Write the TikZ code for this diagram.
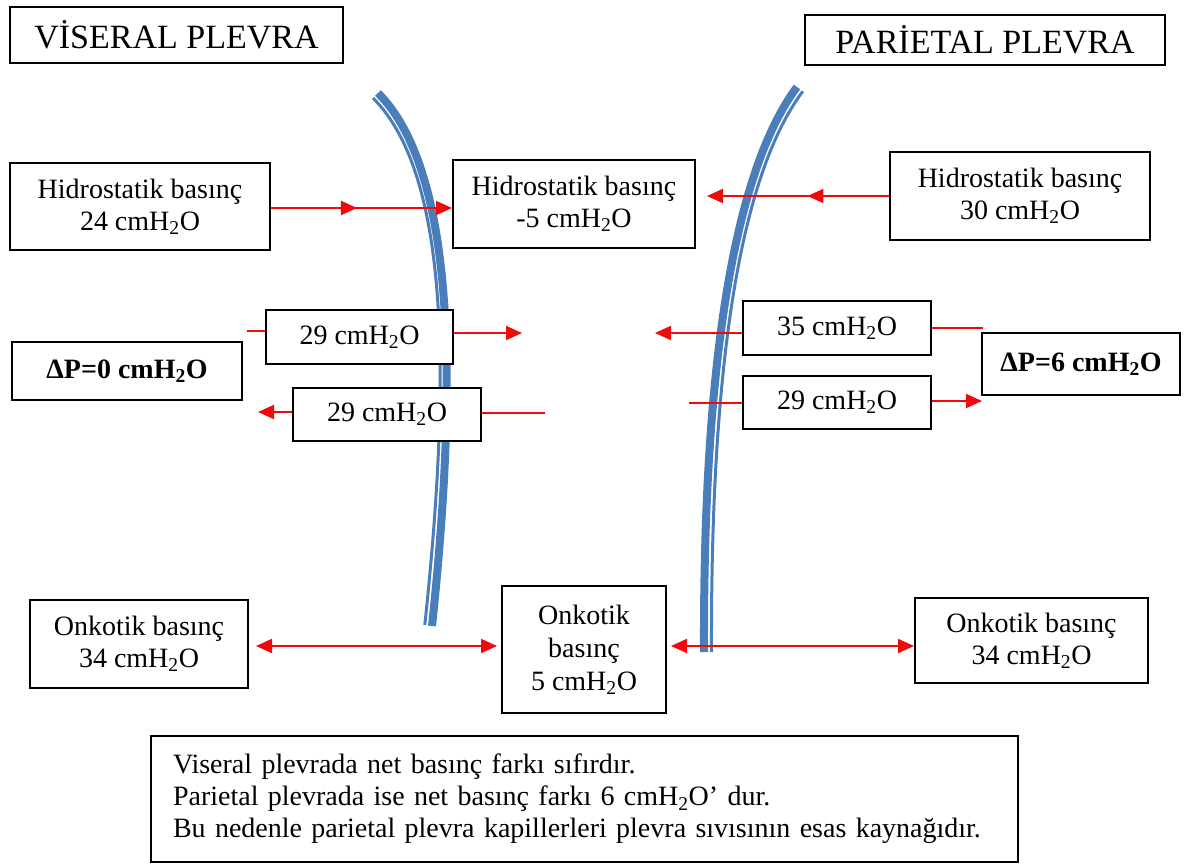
\documentclass[tikz,border=0pt]{standalone}
\usepackage{fontspec}
\setmainfont{Liberation Serif}
\usetikzlibrary{arrows.meta,decorations.markings}
\definecolor{pblue}{RGB}{74,126,187}
\definecolor{ared}{RGB}{240,10,10}
\newcommand{\water}{cmH\textsubscript{2}O}
\begin{document}
\begin{tikzpicture}[x=1pt,y=-1pt,
  box/.style={draw=black, line width=2pt, fill=white, inner sep=0pt, align=center,
    font={\fontsize{28}{32}\selectfont}},
  titlebox/.style={box, font={\fontsize{34}{40}\selectfont}},
  boldbox/.style={box, font={\fontsize{28}{32}\selectfont\bfseries}},
  rl/.style={draw=ared, line width=2pt},
  ar/.style={rl, -{Triangle[length=16pt,width=14pt]}},
  dar/.style={rl, {Triangle[length=16pt,width=14pt]}-{Triangle[length=16pt,width=14pt]}},
  midarrow/.style={postaction={decorate,decoration={markings,
    mark=at position #1 with {\arrow{Triangle[length=16pt,width=14pt]}}}}},
  thickpl/.style={draw=pblue, line width=8pt},
  thinpl/.style={draw=pblue, line width=3pt}]
\useasboundingbox (0,0) rectangle (1186,867);

% pleura curves
\draw[thickpl] (378,93) .. controls (455,170) and (458,380) .. (432,626);
\draw[thinpl] (373,98) .. controls (450,175) and (450.8,379.2) .. (424.8,625);
\draw[thickpl] (797,87) .. controls (735,170) and (703,360) .. (704,652);
\draw[thinpl] (802.8,91.3) .. controls (740.8,174.3) and (710.5,360) .. (711.5,652);

% titles
\node[titlebox, minimum width=333pt, minimum height=56pt] (vt) at (176.5,35) {VİSERAL PLEVRA};
\node[titlebox, minimum width=360pt, minimum height=50pt] (pt) at (985,40) {PARİETAL PLEVRA};

% hydrostatic
\node[box, minimum width=260pt, minimum height=87pt] (hl) at (140,206.5) {Hidrostatik basınç\\24 \water};
\node[box, minimum width=242pt, minimum height=88pt] (hm) at (574,204) {Hidrostatik basınç\\-5 \water};
\node[box, minimum width=260pt, minimum height=88pt] (hr) at (1020,196) {Hidrostatik basınç\\30 \water};

% middle row
\node[box, minimum width=187pt, minimum height=54pt] (m1) at (359.5,337) {29 \water};
\node[box, minimum width=188pt, minimum height=53pt] (m2) at (387,414.5) {29 \water};
\node[box, minimum width=188pt, minimum height=54pt] (m3) at (837,328) {35 \water};
\node[box, minimum width=188pt, minimum height=53pt] (m4) at (837,402.5) {29 \water};
\node[boldbox, minimum width=230pt, minimum height=58pt] (dp0) at (127,371) {ΔP=0 \water};
\node[boldbox, minimum width=198pt, minimum height=62pt] (dp6) at (1081,364) {ΔP=6 \water};

% oncotic
\node[box, minimum width=218pt, minimum height=88pt] (ol) at (139,644) {Onkotik basınç\\34 \water};
\node[box, minimum width=164pt, minimum height=127pt, font={\fontsize{28}{33}\selectfont}] (om) at (584,649.5) {Onkotik\\basınç\\5 \water};
\node[box, minimum width=233pt, minimum height=85pt] (or) at (1031.5,640.5) {Onkotik basınç\\34 \water};

% note
\node[box, align=left, text width=823pt, inner xsep=22pt, minimum height=126pt] (note) at (584.5,799)
  {Viseral plevrada net basınç farkı sıfırdır.\\
   Parietal plevrada ise net basınç farkı 6 \water’ dur.\\
   Bu nedenle parietal plevra kapillerleri plevra sıvısının esas kaynağıdır.};

% connectors
\coordinate (hy) at (0,208);
\draw[ar, midarrow=0.475] (hl.east |- hy) -- (hm.west |- hy);
\coordinate (hz) at (707,196);
\draw[ar, midarrow=0.448] (hr.west |- hz) -- (hz);

\coordinate (s1) at (247,331);
\coordinate (e1) at (522,333);
\draw[rl] (s1) -- (s1 -| m1.west);
\draw[ar] (m1.east |- e1) -- (e1);

\coordinate (e2) at (258,412);
\coordinate (s2) at (545,413);
\draw[ar] (m2.west |- e2) -- (e2);
\draw[rl] (m2.east |- s2) -- (s2);

\coordinate (e3) at (655,333);
\coordinate (s3) at (983,328);
\draw[ar] (m3.west |- e3) -- (e3);
\draw[rl] (m3.east |- s3) -- (s3);

\coordinate (s4) at (689,403);
\coordinate (e4) at (982,401);
\draw[rl] (s4) -- (s4 -| m4.west);
\draw[ar] (m4.east |- e4) -- (e4);

\coordinate (yb) at (0,646);
\draw[dar, shorten <=7pt, shorten >=4pt] (ol.east |- yb) -- (om.west |- yb);
\draw[dar, shorten <=4pt] (om.east |- yb) -- (or.west |- yb);
\end{tikzpicture}
\end{document}
